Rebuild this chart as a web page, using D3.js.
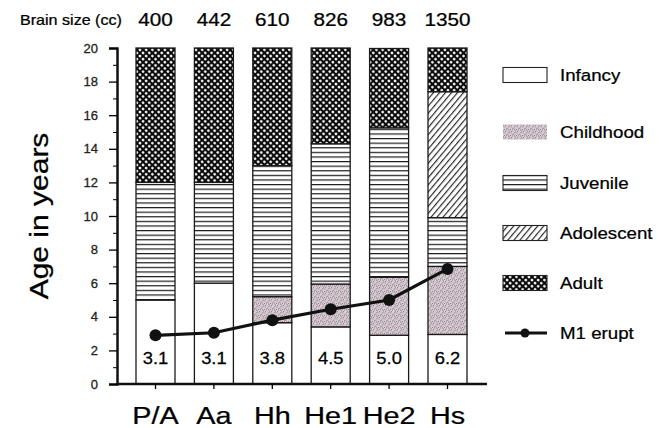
<!DOCTYPE html>
<html>
<head>
<style>
  body { margin: 0; background: #fff; }
  svg { display: block; font-family: "Liberation Sans", Arial, sans-serif; }
</style>
</head>
<body>
<div id="chart"></div>
<script src="https://cdnjs.cloudflare.com/ajax/libs/d3/7.8.5/d3.min.js"></script>
<script>
// data
var groups = ["P/A", "Aa", "Hh", "He1", "He2", "Hs"];
var brainSize = [400, 442, 610, 826, 983, 1350];
var stages = ["Infancy", "Childhood", "Juvenile", "Adolescent", "Adult"];
// years spent in each stage (stacked)
var infancy    = [5.0, 6.0, 3.65, 3.4, 2.9, 2.95];
var childhood  = [0,   0,   1.55, 2.55, 3.45, 4.05];
var juvenile   = [7.0, 6.0, 7.8, 8.35, 8.9, 2.9];
var adolescent = [0,   0,   0,   0,   0,   7.5];
var adult      = [8.0, 8.0, 7.0, 5.7, 4.72, 2.6];
var m1Erupt    = [2.9, 3.05, 3.8, 4.45, 5.0, 6.85];
var m1Labels   = ["3.1", "3.1", "3.8", "4.5", "5.0", "6.2"];

(function() {
  var width = 662, height = 428;
  var svg = d3.select("#chart").append("svg")
    .attr("width", width).attr("height", height);

  // patterns
  var defs = svg.append("defs");
  var pj = defs.append("pattern").attr("id", "p-juv").attr("patternUnits", "userSpaceOnUse")
    .attr("width", 8).attr("height", 4.6);
  pj.append("rect").attr("width", 8).attr("height", 4.6).attr("fill", "#fff");
  pj.append("line").attr("x1", 0).attr("x2", 8).attr("y1", 0.6).attr("y2", 0.6)
    .attr("stroke", "#1a1a1a").attr("stroke-width", 1.2);

  var pa = defs.append("pattern").attr("id", "p-ado").attr("patternUnits", "userSpaceOnUse")
    .attr("width", 4.6).attr("height", 10).attr("patternTransform", "rotate(40)");
  pa.append("rect").attr("width", 4.6).attr("height", 10).attr("fill", "#fff");
  pa.append("line").attr("x1", 0.6).attr("x2", 0.6).attr("y1", 0).attr("y2", 10)
    .attr("stroke", "#1a1a1a").attr("stroke-width", 1.1);

  var pd = defs.append("pattern").attr("id", "p-adult").attr("patternUnits", "userSpaceOnUse")
    .attr("width", 4.4).attr("height", 4.4).attr("patternTransform", "rotate(45)");
  pd.append("rect").attr("width", 4.4).attr("height", 4.4).attr("fill", "#0a0a0a");
  pd.append("circle").attr("cx", 2.2).attr("cy", 2.2).attr("r", 1.35).attr("fill", "#fff");

  var pc = defs.append("pattern").attr("id", "p-child").attr("patternUnits", "userSpaceOnUse")
    .attr("width", 6).attr("height", 6);
  pc.append("rect").attr("width", 6).attr("height", 6).attr("fill", "#d8cbd3");
  [[0.5, 0.5], [3.5, 1.5], [2, 3.5], [5, 4.5], [1, 5], [4.5, 0], [2.5, 2], [0, 3], [4, 3.5]].forEach(function(p) {
    pc.append("rect").attr("x", p[0]).attr("y", p[1]).attr("width", 0.9).attr("height", 0.9).attr("fill", "#7c727a");
  });

  var fills = {
    Infancy: "#fff", Childhood: "url(#p-child)", Juvenile: "url(#p-juv)",
    Adolescent: "url(#p-ado)", Adult: "url(#p-adult)"
  };

  var x = d3.scaleBand().domain(groups).range([126.3, 476.7])
    .paddingInner(0.332).paddingOuter(0.166);
  var y = d3.scaleLinear().domain([0, 20]).range([384, 48]);

  var rows = groups.map(function(g, i) {
    return { group: g, Infancy: infancy[i], Childhood: childhood[i], Juvenile: juvenile[i],
      Adolescent: adolescent[i], Adult: adult[i] };
  });
  var series = d3.stack().keys(stages)(rows);

  // bars
  series.forEach(function(s) {
    svg.append("g").selectAll("rect")
      .data(s.filter(function(d) { return d[1] - d[0] > 0; }))
      .enter().append("rect")
      .attr("x", function(d) { return x(d.data.group); })
      .attr("width", x.bandwidth())
      .attr("y", function(d) { return y(d[1]); })
      .attr("height", function(d) { return y(d[0]) - y(d[1]); })
      .attr("fill", fills[s.key])
      .attr("stroke", "#1a1a1a").attr("stroke-width", 1.3);
  });

  // stretched text helper (the scanned type is wider than Arial)
  function label(g, tx, ty, txt, size, sx, anchor, rot) {
    return g.append("text")
      .attr("transform", "translate(" + tx + "," + ty + ")" + (rot ? " rotate(" + rot + ")" : "") + " scale(" + sx + ",1)")
      .attr("text-anchor", anchor || "middle")
      .attr("font-size", size).attr("fill", "#000")
      .attr("stroke", "#000").attr("stroke-width", 0.25)
      .text(txt);
  }

  // axes
  var yAxis = svg.append("g").attr("transform", "translate(117,0)")
    .call(d3.axisLeft(y).tickValues(d3.range(0, 21, 2)).tickSize(8).tickPadding(11));
  yAxis.select(".domain").attr("stroke-width", 2.5).attr("stroke", "#111");
  yAxis.selectAll(".tick line").attr("stroke-width", 1.3);
  yAxis.selectAll(".tick text").attr("font-size", 13).attr("fill", "#222")
    .attr("stroke", "#222").attr("stroke-width", 0.3)
    .attr("font-family", "Liberation Sans, Arial, sans-serif");
  svg.append("g").attr("transform", "translate(117,0)")
    .call(d3.axisLeft(y).tickValues(d3.range(1, 20, 2)).tickSize(4).tickFormat(""))
    .call(function(g) { g.select(".domain").remove(); });

  var xAxis = svg.append("g").attr("transform", "translate(0,384)")
    .call(d3.axisBottom(x).tickSize(5).tickFormat(""));
  xAxis.select(".domain").attr("d", "M117,0H487").attr("stroke-width", 2.5).attr("stroke", "#111");
  xAxis.selectAll(".tick line").attr("stroke-width", 1.3);

  groups.forEach(function(g) {
    label(svg, x(g) + x.bandwidth() / 2, 424, g, 24, 1.2);
  });

  // brain size row
  label(svg, 20, 25, "Brain size (cc)", 14, 1.15, "start");
  brainSize.forEach(function(b, i) {
    label(svg, x(groups[i]) + x.bandwidth() / 2, 26, b, 18, 1.15);
  });

  // y title
  label(svg, 48, 216, "Age in years", 25, 1.2, "middle", -90);

  // M1 eruption line
  var line = d3.line()
    .x(function(d, i) { return x(groups[i]) + x.bandwidth() / 2; })
    .y(function(d) { return y(d); });
  svg.append("path").datum(m1Erupt).attr("d", line)
    .attr("fill", "none").attr("stroke", "#111").attr("stroke-width", 3.2);
  svg.append("g").selectAll("circle").data(m1Erupt).enter().append("circle")
    .attr("cx", function(d, i) { return x(groups[i]) + x.bandwidth() / 2; })
    .attr("cy", function(d) { return y(d); })
    .attr("r", 6).attr("fill", "#111");

  m1Labels.forEach(function(t, i) {
    label(svg, x(groups[i]) + x.bandwidth() / 2, 364, t, 17, 1.08);
  });

  // legend
  var legend = svg.append("g");
  var legY = [75, 132, 183, 233, 283];
  stages.forEach(function(s, i) {
    legend.append("rect").attr("x", 503).attr("y", legY[i] - 7.5)
      .attr("width", 44).attr("height", 15)
      .attr("fill", fills[s])
      .attr("stroke", s === "Childhood" ? "none" : "#222").attr("stroke-width", 1.1);
    label(legend, 560, legY[i] + 6, s, 17, 1.1, "start");
  });
  legend.append("line").attr("x1", 505).attr("x2", 547).attr("y1", 333).attr("y2", 333)
    .attr("stroke", "#111").attr("stroke-width", 3);
  legend.append("circle").attr("cx", 525).attr("cy", 333).attr("r", 4.5).attr("fill", "#111");
  label(legend, 560, 339, "M1 erupt", 17, 1.1, "start");
})();
</script>
</body>
</html>
